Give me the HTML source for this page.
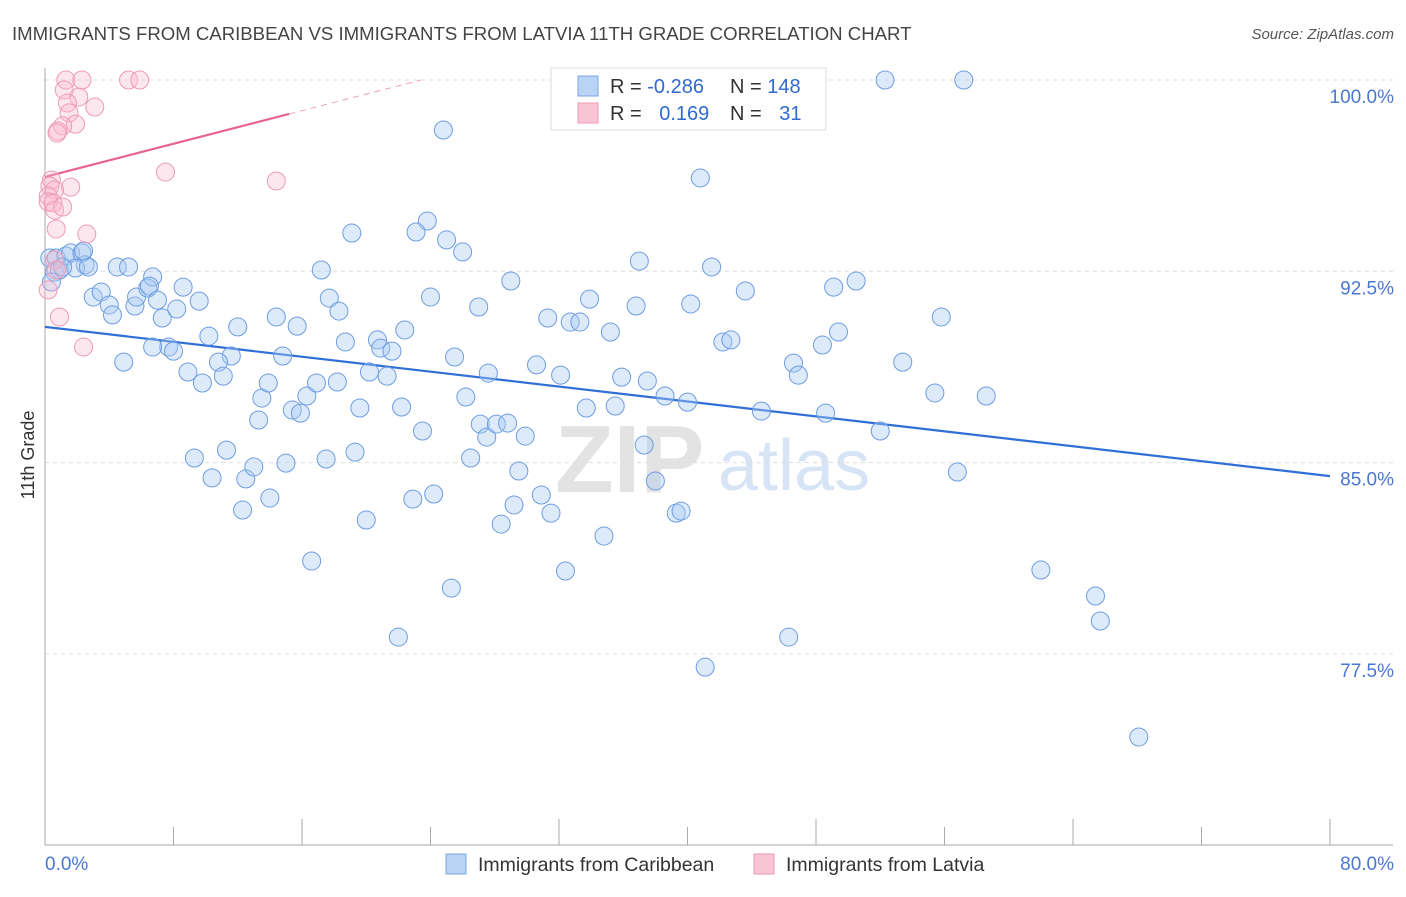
<!DOCTYPE html>
<html><head><meta charset="utf-8"><style>
body{margin:0;background:#fff;font-family:"Liberation Sans",sans-serif}
svg text{font-family:"Liberation Sans",sans-serif}
</style></head><body>
<svg id="c" width="1406" height="892" xmlns="http://www.w3.org/2000/svg">
<text x="12" y="40" font-size="18.6" fill="#444">IMMIGRANTS FROM CARIBBEAN VS IMMIGRANTS FROM LATVIA 11TH GRADE CORRELATION CHART</text>
<text x="1394" y="39" font-size="15" fill="#555" font-style="italic" text-anchor="end">Source: ZipAtlas.com</text>
<g>
<text x="555" y="492" font-size="96" fill="#e3e3e3" font-family="Liberation Serif" font-weight="bold">ZIP</text>
<text x="718" y="490" font-size="72" fill="#d7e4f5">atlas</text>
</g>
<g id="grid"></g><g id="axes"></g><g id="trend"></g><g id="pts"></g>
<text transform="translate(34,455) rotate(-90)" font-size="18" fill="#333" text-anchor="middle">11th Grade</text>
<text x="45" y="870" font-size="19" fill="#4a78d0">0.0%</text>
<text x="1394" y="870" font-size="19" fill="#4a78d0" text-anchor="end">80.0%</text>
<g>
<rect x="551" y="68" width="275" height="62" fill="#fff" stroke="#ddd"/>
<rect x="578" y="76" width="20" height="20" fill="#b9d3f5" stroke="#7aa7e6"/>
<rect x="578" y="103" width="20" height="20" fill="#f9c5d5" stroke="#ef9ab5"/>
<text x="610" y="93" font-size="20" fill="#333">R = <tspan fill="#2f6ad0">-0.286</tspan></text>
<text x="730" y="93" font-size="20" fill="#333">N = <tspan fill="#2f6ad0">148</tspan></text>
<text x="610" y="120" font-size="20" fill="#333">R = <tspan fill="#2f6ad0" dx="12">0.169</tspan></text>
<text x="730" y="120" font-size="20" fill="#333">N = <tspan fill="#2f6ad0" dx="12">31</tspan></text>
</g>
<g>
<rect x="446" y="854" width="20" height="20" fill="#b9d3f5" stroke="#7aa7e6"/>
<text x="478" y="871" font-size="19.5" fill="#333">Immigrants from Caribbean</text></g>
<g>
<rect x="754" y="854" width="20" height="20" fill="#f9c5d5" stroke="#ef9ab5"/>
<text x="786" y="871" font-size="19.5" fill="#333">Immigrants from Latvia</text></g>
</svg>
<script>
const yTicks=[100,92.5,85,77.5];
const yTickLabels=["100.0%","92.5%","85.0%","77.5%"];
const xTicks=[0,8,16,24,32,40,48,56,64,72,80];
const blueX=[52.3,57.2,24.8,40.8,23.8,23.1,19.1,25.0,26.0,37.0,17.2,41.5,29.0,50.5,49.1,43.6,33.9,24.0,17.7,27.0,36.8,40.2,55.8,31.3,32.7,33.3,35.2,18.3,15.7,22.4,12.0,14.4,10.2,20.7,18.7,20.9,21.6,49.4,48.4,42.2,42.7,25.5,30.6,32.1,27.6,20.2,21.3,35.9,37.5,38.6,40.0,44.6,48.6,46.6,46.9,53.4,55.4,58.6,52.0,26.2,22.2,19.6,15.4,15.9,16.3,16.9,18.2,13.5,13.9,14.8,11.6,10.8,11.1,9.8,8.9,7.7,8.0,4.9,13.3,11.3,9.3,10.4,12.5,13.0,15.0,17.5,19.3,23.5,27.1,27.5,28.1,28.8,29.9,26.5,29.5,29.2,30.9,31.5,22.9,24.2,37.3,38.0,35.5,33.7,39.3,39.6,12.3,14.0,20.0,28.4,34.8,16.6,32.4,25.3,22.0,41.1,46.3,56.8,62.0,65.4,65.7,68.1,0.3,0.7,0.6,0.9,1.3,1.6,2.3,2.5,1.9,2.7,0.4,3.0,3.5,4.0,4.2,4.5,5.2,5.6,5.7,6.4,6.7,6.5,7.0,7.3,8.2,8.6,9.6,6.7,2.4,1.1];
const blueY=[100,100,98.04,96.16,94.47,94.04,94.0,93.73,93.26,92.9,92.55,92.67,92.12,92.12,91.88,91.73,91.41,91.49,91.45,91.1,91.14,91.22,90.71,90.67,90.51,90.51,90.12,90.94,90.35,90.2,90.32,90.71,89.96,89.81,89.73,89.49,89.37,90.12,89.61,89.73,89.81,89.14,88.83,88.43,88.51,88.55,88.39,88.35,88.2,87.61,87.37,87.02,86.94,88.9,88.43,88.94,87.73,87.61,86.24,87.57,87.18,87.14,87.06,86.94,87.61,88.12,88.16,87.53,88.12,89.18,89.18,88.94,88.39,88.12,88.55,89.53,89.37,88.94,86.67,85.49,85.18,84.4,84.36,84.83,84.98,85.14,85.41,86.24,86.51,86.0,86.51,86.55,86.04,85.18,84.67,83.34,83.73,83.02,83.57,83.77,85.69,84.28,87.22,87.14,83.02,83.1,83.14,83.61,82.75,82.59,82.12,81.14,80.75,80.08,78.16,76.98,78.16,84.63,80.79,79.77,78.79,74.24,93.02,93.02,92.47,92.55,93.1,93.22,93.22,92.75,92.63,92.67,92.08,91.49,91.69,91.18,90.79,92.67,92.67,91.14,91.49,91.84,92.28,91.92,91.37,90.67,91.02,91.88,91.33,89.53,93.3,92.67];
const pinkX=[1.3,2.3,5.2,5.9,1.2,2.1,1.4,3.1,1.5,1.9,1.1,0.8,0.75,7.5,14.4,0.4,0.3,0.6,1.6,0.2,0.2,0.5,0.6,1.1,0.7,2.6,0.6,0.7,0.2,0.9,2.4];
const pinkY=[100,100,100,100,99.61,99.33,99.1,98.94,98.71,98.27,98.2,98.0,97.92,96.39,96.04,96.08,95.84,95.69,95.8,95.45,95.22,95.18,94.9,95.02,94.16,93.96,92.94,92.55,91.77,90.71,89.53];
const blueTrendX=[0,80], blueTrendY=[90.32,84.47];
const pinkTrendX=[0,15.2,23.4], pinkTrendY=[96.2,98.67,100];
const X=v=>45+v*1285/80, Y=v=>80+(100-v)*191.3/7.5;
const NS="http://www.w3.org/2000/svg";
function mk(p,t,a){const e=document.createElementNS(NS,t);for(const k in a)e.setAttribute(k,a[k]);document.getElementById(p).appendChild(e);return e;}
yTicks.forEach((t,i)=>{
 const l=mk('grid','line',{x1:45,x2:1393,y1:Y(t),y2:Y(t),stroke:'#ddd','stroke-dasharray':'4,4'});
 
 
 const tx=mk('grid','text',{x:1394,y:Y(t)+23,'font-size':19,fill:'#4a78d0','text-anchor':'end'});
 tx.textContent=yTickLabels[i];
 
 
});
let a=mk('axes','line',{x1:45,x2:45,y1:68,y2:845,stroke:'#aaa'});


a=mk('axes','line',{x1:45,x2:1393,y1:845,y2:845,stroke:'#aaa'});


xTicks.forEach((t,i)=>{
 const h=(i%2==0)?26:18;
 const l=mk('axes','line',{x1:X(t),x2:X(t),y1:845-h,y2:845,stroke:'#aaa'});
 
 
});
blueX.forEach((v,i)=>{
 const c=mk('pts','circle',{cx:X(v),cy:Y(blueY[i]),r:9,fill:'rgba(170,202,242,0.4)',stroke:'#6d9de2','stroke-width':1});
 
 
});
pinkX.forEach((v,i)=>{
 const c=mk('pts','circle',{cx:X(v),cy:Y(pinkY[i]),r:9,fill:'rgba(248,186,206,0.35)',stroke:'#ee9ab6','stroke-width':1});
 
 
});
let t=mk('trend','line',{x1:X(blueTrendX[0]),y1:Y(blueTrendY[0]),x2:X(blueTrendX[1]),y2:Y(blueTrendY[1]),stroke:'#2f6fd6','stroke-width':2.2});


t=mk('trend','line',{x1:X(pinkTrendX[0]),y1:Y(pinkTrendY[0]),x2:X(pinkTrendX[1]),y2:Y(pinkTrendY[1]),stroke:'#e8648f','stroke-width':2.2});


t=mk('trend','line',{x1:X(pinkTrendX[1]),y1:Y(pinkTrendY[1]),x2:X(pinkTrendX[2]),y2:Y(pinkTrendY[2]),stroke:'#eea0b8','stroke-width':1,'stroke-dasharray':'6,5'});


</script>
</body></html>
